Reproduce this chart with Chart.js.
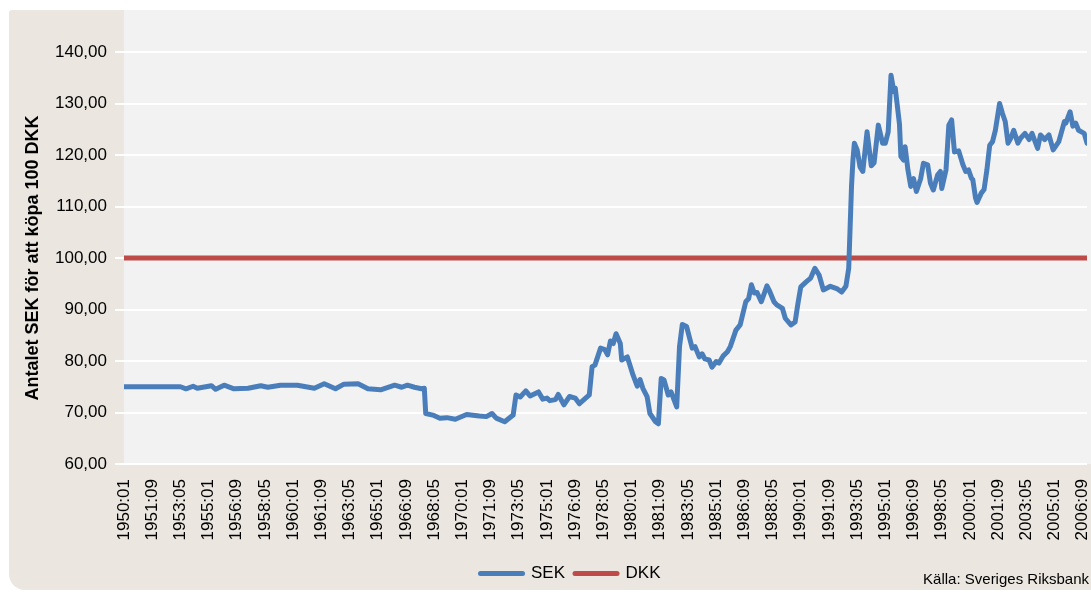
<!DOCTYPE html>
<html>
<head>
<meta charset="utf-8">
<script src="https://cdn.jsdelivr.net/npm/chart.js@4.4.1/dist/chart.umd.min.js"></script>
<style>
  html, body { margin: 0; padding: 0; background: #ffffff; }
  #wrap { width: 1091px; height: 592px; position: relative; }
</style>
</head>
<body>
<div id="wrap"><canvas id="kursChart" width="1091" height="592"></canvas></div>
<script>
// Månader räknade från 1950:01 (= 0)
const sekMonths = [
    0, 40, 44, 49, 52, 62, 65, 71, 78, 88, 97, 102, 111, 123, 135, 142, 150, 156, 166, 173,
    182, 192, 197, 201, 206, 211, 213, 214, 219, 224, 229, 235, 243, 252, 257, 261, 264, 270, 276, 278,
    281, 285, 288, 294, 297, 300, 302, 306, 308, 312, 316, 320, 323, 330, 332, 334, 338, 341, 343, 345,
    347, 349, 352, 353, 357, 361, 364, 366, 368, 371, 373, 377, 379, 381, 383, 386, 388, 392, 394, 396,
    399, 403, 405, 408, 410, 412, 415, 417, 420, 422, 425, 428, 430, 434, 437, 441, 443, 445, 447, 449,
    452, 456, 458, 461, 463, 467, 469, 473, 476, 478, 480, 484, 487, 490, 493, 496, 501, 506, 509, 512,
    514, 515, 516, 517, 518, 520, 522, 524, 527, 530, 532, 535, 538, 540, 542, 544, 546, 547, 550, 551,
    553, 554, 556, 558, 560, 562, 565, 567, 570, 572, 574, 577, 579, 580, 583, 585, 587, 589, 592, 595,
    597, 599, 601, 602, 604, 605, 608, 610, 612, 614, 616, 618, 621, 623, 625, 627, 629, 631, 634, 636,
    639, 642, 644, 648, 650, 653, 656, 659, 663, 667, 668, 671, 673, 675, 677, 681, 683
];
const sekValues = [
    75.0, 75.0, 74.6, 75.1, 74.7, 75.2, 74.5, 75.3, 74.6, 74.7, 75.2, 74.9, 75.3, 75.3, 74.7, 75.6, 74.6, 75.5, 75.6, 74.6,
    74.4, 75.3, 74.9, 75.3, 74.9, 74.6, 74.7, 69.8, 69.5, 68.9, 69.0, 68.7, 69.6, 69.3, 69.2, 69.8, 68.9, 68.2, 69.5, 73.4,
    73.0, 74.2, 73.2, 74.0, 72.6, 72.8, 72.3, 72.5, 73.5, 71.5, 73.1, 72.8, 71.7, 73.4, 78.9, 79.2, 82.5, 82.2, 81.2, 83.9,
    83.4, 85.3, 83.4, 80.2, 80.8, 77.3, 75.1, 76.4, 74.7, 73.1, 69.8, 68.2, 67.8, 76.6, 76.3, 73.4, 74.0, 71.1, 82.8, 87.1,
    86.7, 82.5, 82.8, 80.8, 81.4, 80.4, 80.2, 78.8, 79.9, 79.6, 81.0, 81.8, 82.8, 86.0, 87.0, 91.5, 92.1, 94.8, 93.2, 93.3,
    91.5, 94.6, 93.5, 91.5, 90.9, 90.2, 88.3, 87.0, 87.6, 91.2, 94.4, 95.4, 96.1, 98.0, 96.7, 93.8, 94.5, 94.0, 93.4, 94.5,
    98.0, 106.0, 114.0, 119.0, 122.3, 121.0, 117.7, 116.8, 124.5, 117.9, 118.5, 125.8, 122.3, 122.3, 124.5, 135.5, 132.3, 133.0, 126.0, 119.7,
    119.0, 121.6, 117.1, 113.9, 115.4, 112.9, 115.4, 118.4, 118.1, 114.5, 113.2, 116.1, 116.8, 113.5, 117.1, 125.8, 126.8, 120.6, 120.8, 118.1,
    116.8, 117.1, 115.5, 115.2, 111.6, 110.8, 112.6, 113.3, 117.1, 121.9, 122.6, 124.8, 130.0, 128.1, 126.5, 122.3, 123.3, 124.8, 122.3, 123.3,
    124.2, 123.0, 124.2, 121.3, 123.9, 123.0, 123.9, 121.0, 122.6, 126.5, 126.2, 128.4, 125.6, 126.2, 124.8, 124.2, 122.3
];
const dkkMonths = [0, 683];
const dkkValues = [100, 100];

const xTickLabels = [
    '1950:01', '1951:09', '1953:05', '1955:01', '1956:09', '1958:05', '1960:01', '1961:09', '1963:05',
    '1965:01', '1966:09', '1968:05', '1970:01', '1971:09', '1973:05', '1975:01', '1976:09', '1978:05',
    '1980:01', '1981:09', '1983:05', '1985:01', '1986:09', '1988:05', '1990:01', '1991:09', '1993:05',
    '1995:01', '1996:09', '1998:05', '2000:01', '2001:09', '2003:05', '2005:01', '2006:09'
];
const yTickValues = [60, 70, 80, 90, 100, 110, 120, 130, 140];

const seriesNames = ['SEK', 'DKK'];
const sourceText = 'Källa: Sveriges Riksbank';
const yTitle = 'Antalet SEK för att köpa 100 DKK';

// "1953:05" -> månadsindex
function monthIndex(label) {
    const parts = label.split(':');
    return (parseInt(parts[0], 10) - 1950) * 12 + parseInt(parts[1], 10) - 1;
}

const BLUE = '#4A7EBB';
const RED = '#BE4B48';
const FONT = "'Liberation Sans', Arial, sans-serif";

// Bakgrund: beige panel + grå plottyta
const backgroundPlugin = {
    id: 'bakgrund',
    beforeDraw(chart) {
        const ctx = chart.ctx;
        const area = chart.chartArea;
        ctx.save();
        ctx.fillStyle = '#ffffff';
        ctx.fillRect(0, 0, chart.width, chart.height);
        ctx.fillStyle = '#EBE7E0';
        ctx.beginPath();
        ctx.roundRect(9, 10, chart.width + 20, chart.height - 12, [3, 0, 0, 16]);
        ctx.fill();
        ctx.fillStyle = '#F2F2F2';
        ctx.fillRect(area.left, 10, chart.width - area.left, area.bottom - 10);
        ctx.restore();
    },
    afterLayout(chart) {
        // placera förklaringen som i originalet
        const lg = chart.legend;
        if (!lg) return;
        const h = lg.bottom - lg.top;
        const dx = 27;
        lg.left += dx;
        lg.right += dx;
        lg.top = 555;
        lg.bottom = lg.top + h;
    },
    afterDraw(chart) {
        const ctx = chart.ctx;
        ctx.save();
        ctx.fillStyle = '#000000';
        ctx.font = '15px ' + FONT;
        ctx.textAlign = 'right';
        ctx.textBaseline = 'middle';
        ctx.fillText(sourceText, 1089, 580);
        ctx.restore();
    }
};

const ctx = document.getElementById('kursChart').getContext('2d');
new Chart(ctx, {
    type: 'line',
    data: {
        datasets: [{
            label: seriesNames[0],
            data: sekMonths.map((m, i) => ({ x: m, y: sekValues[i] })),
            borderColor: BLUE,
            backgroundColor: BLUE,
            borderWidth: 5,
            borderCapStyle: 'round',
            borderJoinStyle: 'round',
            pointRadius: 0,
            tension: 0
        }, {
            label: seriesNames[1],
            data: dkkMonths.map((m, i) => ({ x: m, y: dkkValues[i] })),
            borderColor: RED,
            backgroundColor: RED,
            borderWidth: 5,
            borderCapStyle: 'butt',
            pointRadius: 0,
            tension: 0
        }]
    },
    options: {
        responsive: false,
        animation: false,
        devicePixelRatio: 1,
        layout: {
            padding: { top: 52, right: 4, bottom: 0, left: 0 }
        },
        plugins: {
            legend: {
                display: true,
                position: 'bottom',
                labels: {
                    usePointStyle: true,
                    pointStyleWidth: 42,
                    boxHeight: 5,
                    padding: 10,
                    color: '#000000',
                    font: { family: FONT, size: 17 },
                    generateLabels(chart) {
                        return chart.data.datasets.map((ds, i) => ({
                            text: ds.label,
                            fillStyle: ds.borderColor,
                            strokeStyle: ds.borderColor,
                            lineWidth: 5,
                            lineCap: 'round',
                            pointStyle: 'line',
                            hidden: false,
                            datasetIndex: i,
                            fontColor: '#000000'
                        }));
                    }
                }
            },
            tooltip: { enabled: false }
        },
        scales: {
            x: {
                type: 'linear',
                min: 0,
                max: 683,
                afterBuildTicks(scale) {
                    scale.ticks = xTickLabels.map(l => ({ value: monthIndex(l) }));
                },
                afterFit(scale) {
                    const legendH = scale.chart.legend ? scale.chart.legend.height : 0;
                    scale.height = 592 - 464 - legendH;
                    scale.paddingLeft = 0;
                    scale.paddingRight = 0;
                },
                grid: { display: true, drawOnChartArea: false, drawTicks: false },
                border: { display: false },
                ticks: {
                    autoSkip: false,
                    minRotation: 90,
                    maxRotation: 90,
                    padding: 15,
                    color: '#000000',
                    font: { family: FONT, size: 17 },
                    callback(value) {
                        const i = xTickLabels.findIndex(l => monthIndex(l) === value);
                        return i >= 0 ? xTickLabels[i] : '';
                    }
                }
            },
            y: {
                min: 60,
                max: 140,
                afterBuildTicks(scale) {
                    scale.ticks = yTickValues.map(v => ({ value: v }));
                },
                afterFit(scale) {
                    scale.width = 124;
                },
                grid: {
                    color: '#ffffff',
                    lineWidth: 2,
                    drawTicks: true,
                    tickLength: 9,
                    tickColor: '#ffffff'
                },
                border: { display: false },
                ticks: {
                    padding: 8,
                    color: '#000000',
                    font: { family: FONT, size: 17 },
                    callback(value) {
                        return value.toFixed(2).replace('.', ',');
                    }
                },
                title: {
                    display: true,
                    text: yTitle,
                    color: '#000000',
                    font: { family: FONT, size: 18, weight: 'bold' },
                    padding: { top: 22, bottom: 0 }
                }
            }
        }
    },
    plugins: [backgroundPlugin]
});
</script>
</body>
</html>
